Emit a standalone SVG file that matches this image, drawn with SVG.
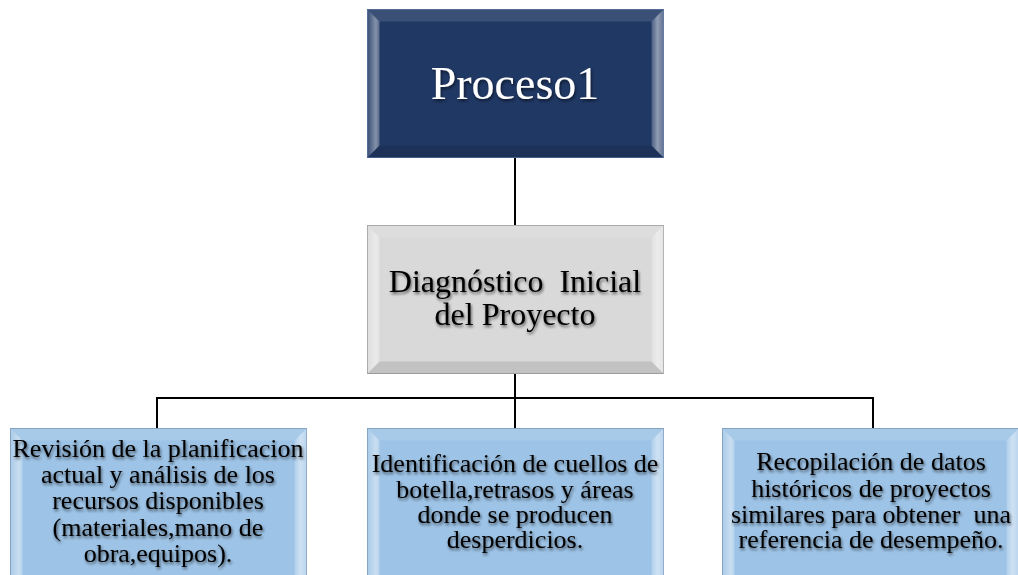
<svg xmlns="http://www.w3.org/2000/svg" xmlns:xlink="http://www.w3.org/1999/xlink" width="1018" height="575" viewBox="0 0 1018 575">
  <style>
    .face { stroke-width: 1; }
    .navy { fill: #203864; stroke: #4a6491; }
    .grey { fill: #d9d9d9; stroke: #a6a6a6; }
    .blue { fill: #9dc3e6; stroke: #7f9fbf; }
    .conn { stroke: #000; stroke-width: 2; fill: none; }
    .t { font-family: "Liberation Serif", "Times New Roman", serif; text-anchor: middle; }
    .big { font-size: 46px; fill: #fff; }
    .mid { font-size: 32px; fill: #000; white-space: pre; }
    .sm { font-size: 26px; fill: #000; white-space: pre; }
  </style>
  <defs>
    <linearGradient id="gl" x1="0" y1="0" x2="1" y2="0">
      <stop offset="0" stop-color="#fff" stop-opacity="0.12"/>
      <stop offset="0.7" stop-color="#fff" stop-opacity="0.45"/>
      <stop offset="1" stop-color="#fff" stop-opacity="0.25"/>
    </linearGradient>
    <linearGradient id="gr" x1="0" y1="0" x2="1" y2="0">
      <stop offset="0" stop-color="#fff" stop-opacity="0.2"/>
      <stop offset="0.5" stop-color="#fff" stop-opacity="0.5"/>
      <stop offset="1" stop-color="#fff" stop-opacity="0.3"/>
    </linearGradient>
    <g id="bevel">
      <polygon points="0,0 296,0 284,12 12,12" fill="#fff" fill-opacity="0.12"/>
      <polygon points="0,148 296,148 284,136 12,136" fill="#000" fill-opacity="0.1"/>
      <polygon points="0,0 12,12 12,136 0,148" fill="url(#gl)"/>
      <polygon points="296,0 284,12 284,136 296,148" fill="url(#gr)"/>
    </g>
    <g id="bevel-tall">
      <polygon points="0,0 296,0 284,12 12,12" fill="#fff" fill-opacity="0.12"/>
      <polygon points="0,0 12,12 12,156 0,168" fill="url(#gl)"/>
      <polygon points="296,0 284,12 284,156 296,168" fill="url(#gr)"/>
    </g>
    <filter id="sh" x="-10%" y="-20%" width="120%" height="140%">
      <feGaussianBlur in="SourceAlpha" stdDeviation="1.5"/>
      <feOffset dx="1" dy="1.5" result="b"/>
      <feComponentTransfer><feFuncA type="linear" slope="0.6"/></feComponentTransfer>
      <feMerge><feMergeNode/><feMergeNode in="SourceGraphic"/></feMerge>
    </filter>
  </defs>

  <g id="connectors">
    <line class="conn" x1="515" y1="157" x2="515" y2="225"/>
    <line class="conn" x1="515" y1="372" x2="515" y2="428"/>
    <polyline class="conn" points="157,429 157,398 873,398 873,429"/>
  </g>

  <g id="node-proceso1">
    <rect class="face navy" x="367.5" y="9.5" width="296" height="148"/>
    <use href="#bevel" x="367.5" y="9.5"/>
    <text class="t big" x="515" y="99" filter="url(#sh)">Proceso1</text>
  </g>

  <g id="node-diagnostico">
    <rect class="face grey" x="367.5" y="225.5" width="296" height="148"/>
    <use href="#bevel" x="367.5" y="225.5"/>
    <text class="t mid" filter="url(#sh)"><tspan x="515" y="292">Diagnóstico  Inicial</tspan><tspan x="515" y="325">del Proyecto</tspan></text>
  </g>

  <g id="node-revision">
    <rect class="face blue" x="10.5" y="428.5" width="296" height="168"/>
    <use href="#bevel-tall" x="10.5" y="428.5"/>
    <text class="t sm" filter="url(#sh)"><tspan x="158" y="457">Revisión de la planificacion</tspan><tspan x="158" y="483">actual y análisis de los</tspan><tspan x="158" y="509">recursos disponibles</tspan><tspan x="158" y="536">(materiales,mano de</tspan><tspan x="158" y="562">obra,equipos).</tspan></text>
  </g>

  <g id="node-identificacion">
    <rect class="face blue" x="367.5" y="428.5" width="296" height="168"/>
    <use href="#bevel-tall" x="367.5" y="428.5"/>
    <text class="t sm" filter="url(#sh)"><tspan x="515" y="472">Identificación de cuellos de</tspan><tspan x="515" y="498">botella,retrasos y áreas</tspan><tspan x="515" y="523">donde se producen</tspan><tspan x="515" y="548">desperdicios.</tspan></text>
  </g>

  <g id="node-recopilacion">
    <rect class="face blue" x="722.5" y="428.5" width="296" height="168"/>
    <use href="#bevel-tall" x="722.5" y="428.5"/>
    <text class="t sm" filter="url(#sh)"><tspan x="871" y="470">Recopilación de datos</tspan><tspan x="871" y="497">históricos de proyectos</tspan><tspan x="871" y="523">similares para obtener  una</tspan><tspan x="871" y="548">referencia de desempeño.</tspan></text>
  </g>
</svg>
